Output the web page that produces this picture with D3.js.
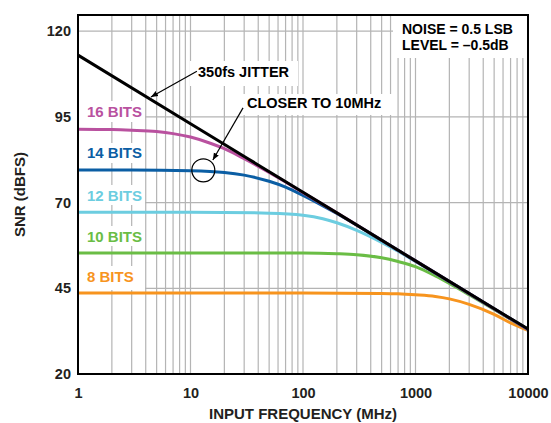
<!DOCTYPE html>
<html>
<head>
<meta charset="utf-8">
<script src="https://cdn.jsdelivr.net/npm/d3@7"></script>
<style>
  body { margin: 0; background: #fff; }
  svg text { font-family: "Liberation Sans", Arial, sans-serif; font-weight: bold; }
</style>
</head>
<body>
<div id="chart"></div>
<script>
// values (MHz, dBFS)
const jitterFreq = [1, 10, 100, 1000, 10000];
const jitterSnr  = [113.0, 93.0, 73.0, 53.0, 33.1];

const bits16Freq = [1, 2, 3, 5, 7, 10, 15, 20, 30, 50, 70, 100, 200, 500, 1000, 10000];
const bits16Snr  = [91.4, 91.3, 91.1, 90.7, 90.1, 89.1, 87.3, 85.7, 82.8, 78.8, 76.0, 72.9, 67.0, 59.0, 53.0, 33.0];

const bits14Freq = [1, 3, 10, 20, 30, 50, 70, 100, 200, 500, 1000, 10000];
const bits14Snr  = [79.5, 79.5, 79.3, 78.8, 78.0, 76.2, 74.5, 72.1, 66.8, 59.0, 53.0, 33.0];

const bits12Freq = [1, 10, 50, 100, 150, 200, 300, 500, 700, 1000, 2000, 10000];
const bits12Snr  = [67.2, 67.2, 66.9, 66.3, 65.3, 64.1, 61.9, 58.4, 55.8, 52.8, 46.9, 33.0];

const bits10Freq = [1, 10, 100, 200, 300, 500, 700, 1000, 1500, 2000, 3000, 5000, 7000, 10000];
const bits10Snr  = [55.3, 55.3, 55.3, 55.1, 54.8, 53.9, 52.8, 51.3, 48.6, 46.4, 43.1, 38.8, 36.0, 33.0];

const bits8Freq = [1, 10, 100, 500, 700, 1000, 1500, 2000, 3000, 5000, 7000, 10000];
const bits8Snr  = [43.6, 43.6, 43.6, 43.5, 43.4, 43.1, 42.6, 41.9, 40.3, 37.4, 34.9, 32.7];

const seriesNames  = ["16 BITS", "14 BITS", "12 BITS", "10 BITS", "8 BITS"];
const seriesColors = ["#b9519f", "#0b5ea4", "#6ccde0", "#6abd45", "#f7941e"];

const xTicks = [1, 10, 100, 1000, 10000];
const yTicks = [20, 45, 70, 95, 120];

const margin = { top: 15, right: 23, bottom: 49, left: 78 },
      width = 551 - margin.left - margin.right,
      height = 423 - margin.top - margin.bottom;

const x = d3.scaleLog().domain([1, 10000]).range([0, width]);
const y = d3.scaleLinear().domain([20, 124.7]).range([height, 0]);

const svg = d3.select("#chart").append("svg")
    .attr("width", 551)
    .attr("height", 423);

const g = svg.append("g")
    .attr("transform", `translate(${margin.left},${margin.top})`);

// grid: every log minor line, horizontal at tick values
const minor = [];
for (let d = 1; d < 10000; d *= 10) {
    for (let k = 2; k <= 9; k++) minor.push(d * k);
}
minor.push(10, 100, 1000);

g.append("g").selectAll("line")
    .data(minor)
    .join("line")
    .attr("x1", d => x(d)).attr("x2", d => x(d))
    .attr("y1", 0).attr("y2", height)
    .attr("stroke", "#b4b4b4").attr("stroke-width", 1.2);

g.append("g").selectAll("line")
    .data(yTicks.filter(v => v > 20))
    .join("line")
    .attr("x1", 0).attr("x2", width)
    .attr("y1", d => y(d)).attr("y2", d => y(d))
    .attr("stroke", "#b4b4b4").attr("stroke-width", 1.2);

// white boxes behind labels (plot coords)
const boxes = [
    [1, 86, 66, 21],        // 16 BITS
    [1, 128, 66, 20],       // 14 BITS
    [1, 170, 66, 20],       // 12 BITS
    [1, 211, 66, 20],       // 10 BITS
    [1, 251, 66, 24],       // 8 BITS
    [112, 46, 108, 25],     // jitter label
    [162, 79, 152, 21],     // closer label
    [315, 1, 134, 42]       // noise box
];
g.append("g").selectAll("rect")
    .data(boxes)
    .join("rect")
    .attr("x", d => d[0]).attr("y", d => d[1])
    .attr("width", d => d[2]).attr("height", d => d[3])
    .attr("fill", "#fff");

const line = d3.line()
    .curve(d3.curveMonotoneX)
    .x(d => x(d[0]))
    .y(d => y(d[1]));

const bitSeries = [
    d3.zip(bits16Freq, bits16Snr),
    d3.zip(bits14Freq, bits14Snr),
    d3.zip(bits12Freq, bits12Snr),
    d3.zip(bits10Freq, bits10Snr),
    d3.zip(bits8Freq, bits8Snr)
];

// lower series first so 16 bits ends up on top, under the jitter line
g.append("g").selectAll("path")
    .data(bitSeries.map((s, i) => ({ s, i })).reverse())
    .join("path")
    .attr("d", d => line(d.s))
    .attr("fill", "none")
    .attr("stroke", d => seriesColors[d.i])
    .attr("stroke-width", 3);

g.append("path")
    .datum(d3.zip(jitterFreq, jitterSnr))
    .attr("d", line)
    .attr("fill", "none")
    .attr("stroke", "#000")
    .attr("stroke-width", 3);

// series labels, baselines in plot coords
const labelBaseline = [102, 143, 186, 227, 267];
g.append("g").selectAll("text")
    .data(seriesNames)
    .join("text")
    .attr("x", 9)
    .attr("y", (d, i) => labelBaseline[i])
    .attr("fill", (d, i) => seriesColors[i])
    .style("font-size", "15px")
    .text(d => d);

// annotations
svg.append("defs").append("marker")
    .attr("id", "arrow")
    .attr("viewBox", "0 0 10 10")
    .attr("refX", 10).attr("refY", 5)
    .attr("markerWidth", 7).attr("markerHeight", 7)
    .attr("markerUnits", "userSpaceOnUse")
    .attr("orient", "auto")
    .append("path")
    .attr("d", "M0,1L10,5L0,9Z")
    .attr("fill", "#000");

g.append("line")
    .attr("x1", x(11.4)).attr("y1", y(108.3))
    .attr("x2", x(4.45)).attr("y2", y(100.8))
    .attr("stroke", "#000").attr("stroke-width", 1.2)
    .attr("marker-end", "url(#arrow)");

g.append("line")
    .attr("x1", x(29.3)).attr("y1", y(97.6))
    .attr("x2", x(15.8)).attr("y2", y(82.4))
    .attr("stroke", "#000").attr("stroke-width", 1.2)
    .attr("marker-end", "url(#arrow)");

g.append("circle")
    .attr("cx", x(13)).attr("cy", y(79.4))
    .attr("r", 11.5)
    .attr("fill", "none")
    .attr("stroke", "#000")
    .attr("stroke-width", 1.2);

g.append("text")
    .attr("x", 120).attr("y", 62)
    .style("font-size", "14.5px")
    .text("350fs JITTER");

g.append("text")
    .attr("x", 169).attr("y", 93)
    .style("font-size", "14.5px")
    .text("CLOSER TO 10MHz");

g.append("text")
    .attr("x", 324).attr("y", 19)
    .style("font-size", "14px")
    .text("NOISE = 0.5 LSB");

g.append("text")
    .attr("x", 324).attr("y", 35)
    .style("font-size", "14px")
    .text("LEVEL = \u20130.5dB");

// axes
const xAxis = d3.axisBottom(x)
    .tickValues(xTicks)
    .tickFormat(d3.format("d"))
    .tickSize(0)
    .tickPadding(14);

const yAxis = d3.axisLeft(y)
    .tickValues(yTicks)
    .tickSize(0)
    .tickPadding(7);

g.append("g")
    .attr("transform", `translate(0,${height})`)
    .call(xAxis)
    .call(a => a.select(".domain").remove())
    .selectAll("text")
    .attr("fill", "#231f20")
    .style("font-size", "14.5px");

g.append("g")
    .call(yAxis)
    .call(a => a.select(".domain").remove())
    .selectAll("text")
    .attr("fill", "#231f20")
    .style("font-size", "14.5px");

g.append("rect")
    .attr("width", width)
    .attr("height", height)
    .attr("fill", "none")
    .attr("stroke", "#000")
    .attr("stroke-width", 2);

svg.append("text")
    .attr("x", margin.left + width / 2)
    .attr("y", 419)
    .attr("text-anchor", "middle")
    .attr("fill", "#231f20")
    .style("font-size", "15px")
    .text("INPUT FREQUENCY (MHz)");

svg.append("text")
    .attr("transform", `translate(25,${margin.top + height / 2}) rotate(-90)`)
    .attr("text-anchor", "middle")
    .attr("fill", "#231f20")
    .style("font-size", "15px")
    .text("SNR (dBFS)");
</script>
</body>
</html>
